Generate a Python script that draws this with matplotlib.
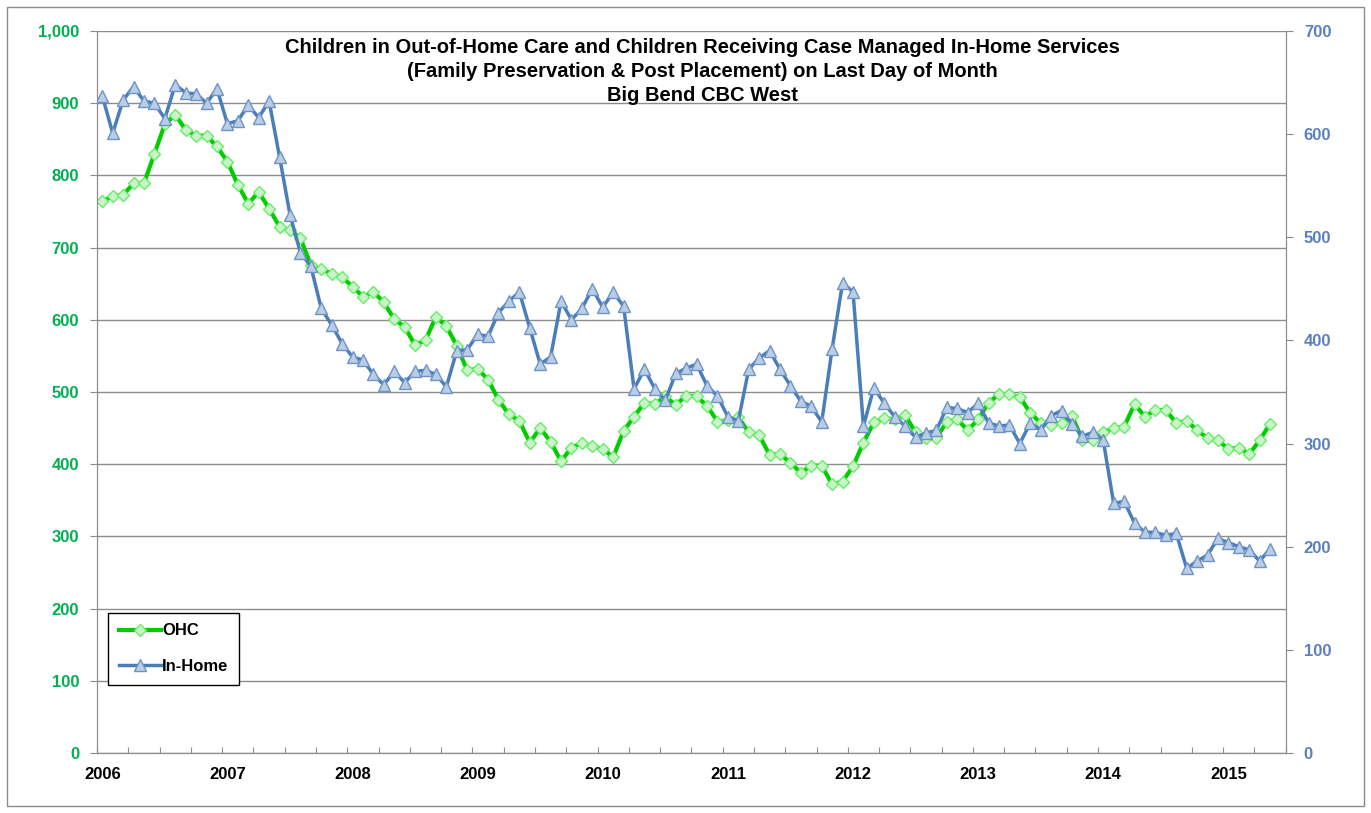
import numpy as np
import matplotlib.pyplot as plt
from matplotlib.patches import Rectangle
from matplotlib.ticker import FuncFormatter

plt.rcParams['font.family'] = ['Liberation Sans', 'DejaVu Sans']

# monthly values, Jan 2006 .. May 2015
ohc = [764, 771, 773, 789, 789, 830, 871, 884, 863, 855, 855, 840,
       819, 787, 761, 777, 754, 729, 724, 713, 676, 670, 664, 659,
       646, 632, 639, 624, 601, 590, 565, 572, 604, 591, 564, 530,
       532, 517, 489, 469, 460, 430, 450, 431, 404, 423, 429, 425,
       421, 410, 446, 466, 485, 483, 494, 482, 495, 494, 481, 459,
       461, 465, 444, 440, 413, 414, 402, 388, 398, 398, 372, 376,
       397, 430, 458, 464, 462, 468, 444, 436, 436, 459, 462, 447,
       462, 485, 497, 497, 493, 471, 457, 454, 457, 467, 434, 434,
       444, 450, 452, 483, 466, 475, 475, 457, 460, 447, 436, 433,
       421, 423, 414, 433, 456]
in_home = [637, 601, 633, 646, 632, 630, 615, 648, 640, 639, 630, 644,
           610, 613, 628, 616, 632, 578, 522, 485, 472, 431, 415, 397,
           384, 381, 367, 357, 370, 359, 370, 371, 367, 355, 390, 391,
           406, 404, 427, 438, 447, 412, 377, 384, 438, 420, 431, 450,
           432, 447, 433, 353, 372, 353, 342, 368, 373, 377, 356, 346,
           326, 322, 372, 383, 390, 372, 356, 341, 336, 321, 392, 456,
           447, 317, 354, 339, 326, 317, 306, 310, 313, 335, 334, 330,
           339, 320, 317, 318, 300, 320, 313, 327, 332, 319, 307, 311,
           303, 242, 244, 223, 214, 214, 211, 213, 179, 186, 192, 208,
           204, 200, 197, 186, 198]
years = [str(y) for y in range(2006, 2016)]

x = np.arange(len(ohc))

fig = plt.figure(figsize=(13.71, 8.13), dpi=100)
ax = fig.add_axes([0.0708, 0.0738, 0.8670, 0.8881])
ax2 = ax.twinx()

green = '#00CC00'
blue = '#4A7EBB'

ax.plot(x, ohc, color=green, lw=3, marker='D', ms=6, mfc='#CCF2CC',
        mec='#66EE66', mew=1, label='OHC', zorder=3)
ax2.plot(x, in_home, color=blue, lw=2.5, marker='^', ms=8, mfc='#B9CDE5',
         mec='#6E93C8', mew=1, label='In-Home', zorder=3)

ax.set_ylim(0, 1000)
ax2.set_ylim(0, 700)
ax.set_xlim(-0.5, 113.5)

ax.set_yticks(np.arange(0, 1001, 100))
ax2.set_yticks(np.arange(0, 701, 100))
ax.yaxis.set_major_formatter(FuncFormatter(lambda v, p: f'{int(v):,}'))
ax.grid(axis='y', color='#8C8C8C', lw=1)
ax.set_axisbelow(True)

ax.set_xticks(np.arange(-0.5, 114, 3))
ax.set_xticklabels([])
ax.set_xticks(np.arange(0, 109, 12), minor=True)
ax.set_xticklabels(years, minor=True)
ax.tick_params(axis='x', which='major', direction='in', length=4, color='#8C8C8C')
ax.tick_params(axis='x', which='minor', length=0, pad=10, labelsize=12)
for t in ax.get_xticklabels(minor=True):
    t.set_fontweight('bold')

ax.tick_params(axis='y', length=5, color='#8C8C8C', labelsize=12,
               labelcolor='#00B050', pad=8)
ax2.tick_params(axis='y', length=5, color='#8C8C8C', labelsize=12,
                labelcolor='#5B7FC0', pad=8)
for t in ax.get_yticklabels() + ax2.get_yticklabels():
    t.set_fontweight('bold')

for a in (ax, ax2):
    for s in a.spines.values():
        s.set_color('#8C8C8C')
    a.spines['top'].set_visible(False)

fig.text(0.512, 0.953,
         'Children in Out-of-Home Care and Children Receiving Case Managed In-Home Services\n'
         '(Family Preservation & Post Placement) on Last Day of Month\n'
         'Big Bend CBC West',
         ha='center', va='top', fontsize=14.5, fontweight='bold', linespacing=1.33)

h1, l1 = ax.get_legend_handles_labels()
h2, l2 = ax2.get_legend_handles_labels()
leg = ax2.legend(h1 + h2, l1 + l2, loc='lower left', bbox_to_anchor=(0.0093, 0.094),
                 borderaxespad=0, fancybox=False, framealpha=1, edgecolor='black',
                 prop={'weight': 'bold', 'size': 12}, handlelength=2.5,
                 borderpad=0.65, labelspacing=1.25, handletextpad=0.1)
leg.get_frame().set_linewidth(1)

fig.patches.append(Rectangle((0.005, 0.008), 0.99, 0.983, transform=fig.transFigure,
                             fill=False, edgecolor='#8C8C8C', lw=1))

plt.savefig('out.png', dpi=100)
